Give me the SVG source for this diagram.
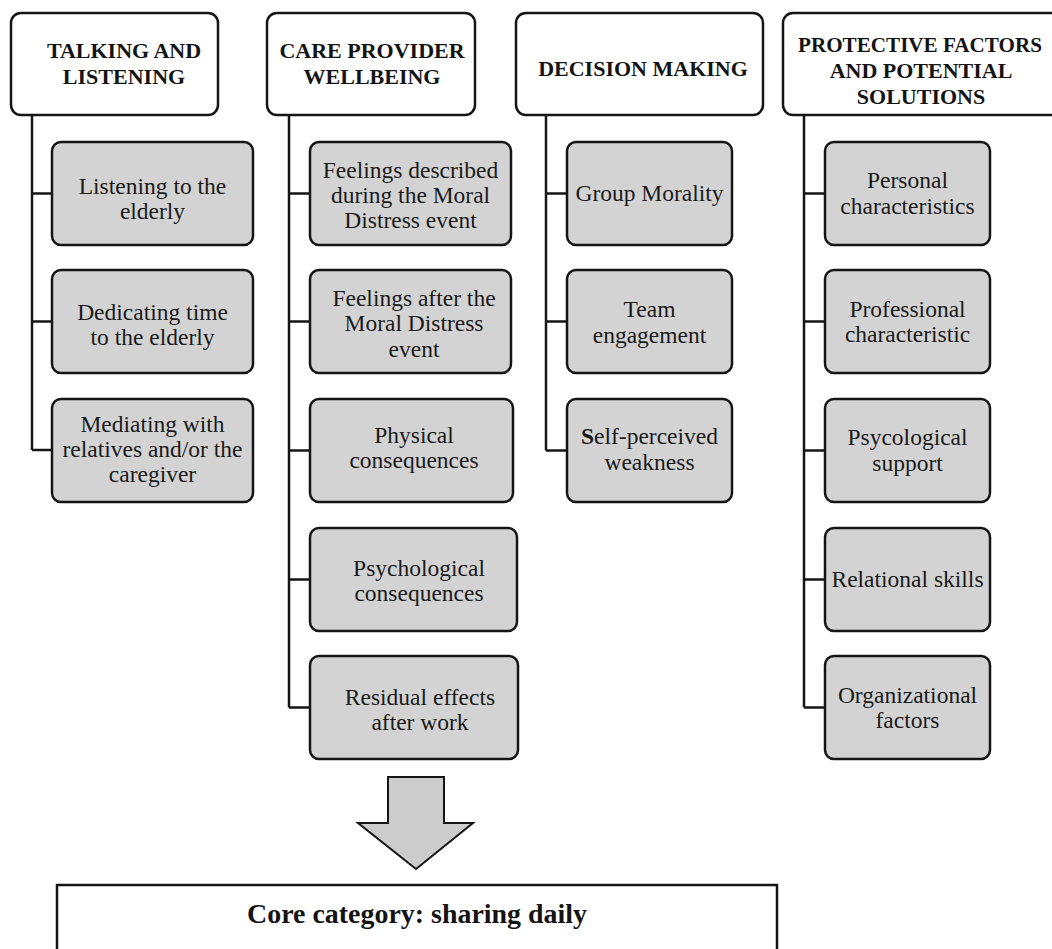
<svg xmlns="http://www.w3.org/2000/svg" width="1052" height="949" viewBox="0 0 1052 949">
<style>
.hdr{fill:#ffffff;stroke:#151515;stroke-width:2.5}
.child{fill:#d3d3d3;stroke:#151515;stroke-width:2.5}
.ht{font-family:"Liberation Serif",serif;font-weight:bold;font-size:22px;fill:#141414;text-anchor:middle}
.ct{font-family:"Liberation Serif",serif;font-size:23.5px;fill:#1a1a1a;text-anchor:middle}
.conn{fill:none;stroke:#151515;stroke-width:2.5}
</style>
<rect width="1052" height="949" fill="#ffffff"/>
<g id="connectors">
<path class="conn" d="M32,116 V450 M32,193.5 H52 M32,321.5 H52 M32,450 H52"/>
<path class="conn" d="M289,116 V707.5 M289,193.5 H310 M289,321.5 H310 M289,450.5 H310 M289,579.5 H310 M289,707.5 H310"/>
<path class="conn" d="M546,116 V450.5 M546,193.5 H567 M546,321.5 H567 M546,450.5 H567"/>
<path class="conn" d="M804,116 V707.5 M804,193.5 H825 M804,321.5 H825 M804,450.5 H825 M804,579.5 H825 M804,707.5 H825"/>
</g>
<g id="h1"><rect class="hdr" x="11" y="13" width="207" height="102" rx="10"/><text class="ht" x="124" y="58">TALKING AND</text><text class="ht" x="124" y="84">LISTENING</text></g>
<g id="h2"><rect class="hdr" x="267" y="13" width="208" height="102" rx="10"/><text class="ht" x="372" y="58">CARE PROVIDER</text><text class="ht" x="372" y="84">WELLBEING</text></g>
<g id="h3"><rect class="hdr" x="516" y="13" width="247" height="102" rx="10"/><text class="ht" x="643" y="76">DECISION MAKING</text></g>
<g id="h4"><rect class="hdr" x="783" y="13" width="290" height="102" rx="10"/><text class="ht" x="920" y="52" textLength="244" lengthAdjust="spacingAndGlyphs">PROTECTIVE FACTORS</text><text class="ht" x="921" y="78">AND POTENTIAL</text><text class="ht" x="921" y="104">SOLUTIONS</text></g>

<g id="c1a"><rect class="child" x="52" y="142" width="201" height="103" rx="9"/><text class="ct" x="152.5" y="194">Listening to the</text><text class="ct" x="152.5" y="219">elderly</text></g>
<g id="c1b"><rect class="child" x="52" y="270" width="201" height="103" rx="9"/><text class="ct" x="152.5" y="320">Dedicating time</text><text class="ct" x="152.5" y="345">to the elderly</text></g>
<g id="c1c"><rect class="child" x="52" y="399" width="201" height="103" rx="9"/><text class="ct" x="152.5" y="432">Mediating with</text><text class="ct" x="152.5" y="457">relatives and/or the</text><text class="ct" x="152.5" y="482">caregiver</text></g>

<g id="c2a"><rect class="child" x="310" y="142" width="201" height="103" rx="9"/><text class="ct" x="410.5" y="178">Feelings described</text><text class="ct" x="410.5" y="203">during the Moral</text><text class="ct" x="410.5" y="228">Distress event</text></g>
<g id="c2b"><rect class="child" x="310" y="270" width="201" height="103" rx="9"/><text class="ct" x="414" y="306">Feelings after the</text><text class="ct" x="414" y="331">Moral Distress</text><text class="ct" x="414" y="357">event</text></g>
<g id="c2c"><rect class="child" x="310" y="399" width="203" height="103" rx="9"/><text class="ct" x="414" y="443">Physical</text><text class="ct" x="414" y="468">consequences</text></g>
<g id="c2d"><rect class="child" x="310" y="528" width="207" height="103" rx="9"/><text class="ct" x="419" y="576">Psychological</text><text class="ct" x="419" y="601">consequences</text></g>
<g id="c2e"><rect class="child" x="310" y="656" width="208" height="103" rx="9"/><text class="ct" x="420" y="705">Residual effects</text><text class="ct" x="420" y="730">after work</text></g>

<g id="c3a"><rect class="child" x="567" y="142" width="165" height="103" rx="9"/><text class="ct" x="649.5" y="201">Group Morality</text></g>
<g id="c3b"><rect class="child" x="567" y="270" width="165" height="103" rx="9"/><text class="ct" x="649.5" y="317">Team</text><text class="ct" x="649.5" y="343">engagement</text></g>
<g id="c3c"><rect class="child" x="567" y="399" width="165" height="103" rx="9"/><text class="ct" x="649.5" y="444"><tspan font-weight="bold">S</tspan>elf-perceived</text><text class="ct" x="649.5" y="470">weakness</text></g>

<g id="c4a"><rect class="child" x="825" y="142" width="165" height="103" rx="9"/><text class="ct" x="907.5" y="188">Personal</text><text class="ct" x="907.5" y="214">characteristics</text></g>
<g id="c4b"><rect class="child" x="825" y="270" width="165" height="103" rx="9"/><text class="ct" x="907.5" y="317">Professional</text><text class="ct" x="907.5" y="342">characteristic</text></g>
<g id="c4c"><rect class="child" x="825" y="399" width="165" height="103" rx="9"/><text class="ct" x="907.5" y="445">Psycological</text><text class="ct" x="907.5" y="471">support</text></g>
<g id="c4d"><rect class="child" x="825" y="528" width="165" height="103" rx="9"/><text class="ct" x="907.5" y="587">Relational skills</text></g>
<g id="c4e"><rect class="child" x="825" y="656" width="165" height="103" rx="9"/><text class="ct" x="907.5" y="703">Organizational</text><text class="ct" x="907.5" y="728">factors</text></g>

<g id="arrow"><polygon points="388,777 444,777 444,823 473,823 416,869 358,823 388,823" fill="#cccccc" stroke="#151515" stroke-width="2" stroke-linejoin="miter"/></g>
<g id="core"><rect x="57" y="885" width="720" height="80" fill="#ffffff" stroke="#151515" stroke-width="2.5"/><text x="417" y="923" font-family="Liberation Serif, serif" font-weight="bold" font-size="26.5px" fill="#141414" text-anchor="middle" textLength="340" lengthAdjust="spacingAndGlyphs">Core category: sharing daily</text></g>
</svg>
